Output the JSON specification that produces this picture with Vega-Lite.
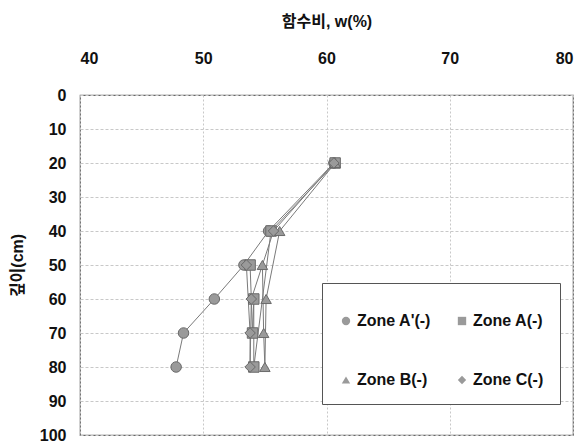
{
  "$schema": "https://vega.github.io/schema/vega-lite/v6.json",
  "width": 493,
  "height": 340,
  "autosize": "none",
  "padding": {"left": 80, "top": 95, "right": 9, "bottom": 8},
  "background": "white",
  "config": {
    "font": "Liberation Sans, Noto Sans CJK KR",
    "view": {"stroke": "#666666", "strokeWidth": 1.2}
  },
  "data": {
    "values": [
      {"zone": "Zone A'(-)", "w": 60.6, "depth": 20},
      {"zone": "Zone A'(-)", "w": 55.3, "depth": 40},
      {"zone": "Zone A'(-)", "w": 53.3, "depth": 50},
      {"zone": "Zone A'(-)", "w": 50.9, "depth": 60},
      {"zone": "Zone A'(-)", "w": 48.4, "depth": 70},
      {"zone": "Zone A'(-)", "w": 47.8, "depth": 80},
      {"zone": "Zone A(-)", "w": 60.7, "depth": 20},
      {"zone": "Zone A(-)", "w": 55.5, "depth": 40},
      {"zone": "Zone A(-)", "w": 53.8, "depth": 50},
      {"zone": "Zone A(-)", "w": 54.1, "depth": 60},
      {"zone": "Zone A(-)", "w": 54.0, "depth": 70},
      {"zone": "Zone A(-)", "w": 54.1, "depth": 80},
      {"zone": "Zone B(-)", "w": 60.7, "depth": 20},
      {"zone": "Zone B(-)", "w": 56.2, "depth": 40},
      {"zone": "Zone B(-)", "w": 54.8, "depth": 50},
      {"zone": "Zone B(-)", "w": 55.1, "depth": 60},
      {"zone": "Zone B(-)", "w": 54.9, "depth": 70},
      {"zone": "Zone B(-)", "w": 55.0, "depth": 80},
      {"zone": "Zone C(-)", "w": 60.6, "depth": 20},
      {"zone": "Zone C(-)", "w": 55.7, "depth": 40},
      {"zone": "Zone C(-)", "w": 53.5, "depth": 50},
      {"zone": "Zone C(-)", "w": 53.9, "depth": 60},
      {"zone": "Zone C(-)", "w": 53.8, "depth": 70},
      {"zone": "Zone C(-)", "w": 53.8, "depth": 80}
    ]
  },
  "encoding": {
    "x": {
      "field": "w", "type": "quantitative",
      "scale": {"domain": [40, 80], "nice": false, "zero": false},
      "axis": {
        "orient": "top", "title": "함수비, w(%)", "values": [40, 50, 60, 70, 80],
        "titleFontSize": 16, "titleFontWeight": "bold", "titleColor": "#111", "titlePadding": 21,
        "labelFontSize": 16, "labelFontWeight": "bold", "labelColor": "#111", "labelPadding": 29,
        "domain": false, "ticks": false,
        "grid": true, "gridColor": "#c8c8c8", "gridDash": [2, 2], "gridWidth": 1
      }
    },
    "y": {
      "field": "depth", "type": "quantitative",
      "scale": {"domain": [0, 100], "reverse": true, "nice": false},
      "axis": {
        "title": "깊이(cm)", "values": [0, 10, 20, 30, 40, 50, 60, 70, 80, 90, 100],
        "titleFontSize": 16, "titleFontWeight": "bold", "titleColor": "#111", "titlePadding": 14,
        "labelFontSize": 16, "labelFontWeight": "bold", "labelColor": "#111", "labelPadding": 14,
        "domain": false, "ticks": false,
        "grid": true, "gridColor": "#c8c8c8", "gridDash": [3, 2], "gridWidth": 1
      }
    }
  },
  "layer": [
    {
      "mark": {"type": "line", "color": "#7a7a7a", "strokeWidth": 1},
      "encoding": {"detail": {"field": "zone"}}
    },
    {
      "mark": {"type": "point", "filled": true, "fill": "#9a9a9a", "stroke": "#6a6a6a", "strokeWidth": 1, "opacity": 1, "size": 110},
      "encoding": {
        "shape": {
          "field": "zone", "type": "nominal",
          "scale": {
            "domain": ["Zone A'(-)", "Zone A(-)", "Zone B(-)", "Zone C(-)"],
            "range": ["circle", "square", "triangle-up", "diamond"]
          },
          "legend": {
            "title": " ", "titleFontSize": 4, "titlePadding": 10,
            "orient": "none", "legendX": 242, "legendY": 188,
            "columns": 2, "direction": "horizontal",
            "strokeColor": "#555", "fillColor": "white", "padding": 16,
            "rowPadding": 43, "columnPadding": 22,
            "labelFontSize": 16, "labelFontWeight": "bold", "labelColor": "#111",
            "symbolFillColor": "#9a9a9a", "symbolStrokeColor": "#6a6a6a", "symbolSize": 70,
            "symbolStrokeWidth": 1, "labelOffset": 3
          }
        }
      }
    }
  ]
}
